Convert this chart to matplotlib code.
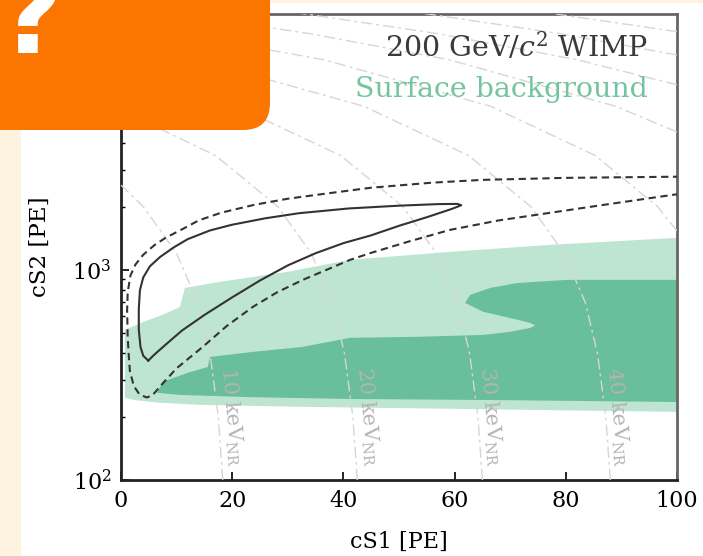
import matplotlib
matplotlib.use('Agg')
import matplotlib.pyplot as plt
from matplotlib.patches import FancyBboxPatch, Rectangle

plt.rcParams['font.family'] = 'DejaVu Serif'
plt.rcParams['mathtext.fontset'] = 'dejavuserif'

# surface background, outer (light) region
bg_outer_cs1 = [0.7, 4.0, 7.5, 10.6, 11.5, 17.8, 29.9, 41.2, 59.2, 77.2, 100,
                100, 77, 50, 32, 14, 7, 2.5, 0.7]
bg_outer_cs2 = [518, 565, 611, 666, 821, 877, 978, 1116, 1218, 1315, 1420,
                211, 215, 220, 223, 228, 233, 240, 246]

# surface background, inner (dark) region
bg_inner_cs1 = [6.5, 7.5, 11.9, 15.6, 16.0, 23.7, 32.7, 41.2, 53.2, 65.1, 70, 73.6, 74.5,
                73.6, 70, 65.1, 61.9, 62.8, 66.4, 71.2, 80.2, 100,
                100, 68, 41, 23, 10.6]
bg_inner_cs2 = [260, 293, 323, 345, 385, 407, 430, 475, 480, 490, 507, 529, 544,
                559, 590, 632, 696, 760, 820, 865, 896, 896,
                235, 240, 243, 248, 254]

# WIMP 1 sigma contour (closed)
wimp1_cs1 = [4.9, 4.0, 3.5, 3.2, 3.2, 3.4, 4.0, 5.2, 7.0, 9.5, 12, 16, 20, 26, 32, 41, 50, 57, 60.5, 61.2,
             59.5, 55, 50, 45, 40, 35, 30, 25, 20, 15, 11, 8, 6, 4.9]
wimp1_cs2 = [370, 390, 430, 520, 650, 800, 920, 1040, 1150, 1280, 1400, 1540, 1640, 1760, 1860, 1960, 2020, 2055, 2060, 2030,
             1950, 1780, 1620, 1460, 1340, 1200, 1050, 890, 740, 610, 515, 440, 395, 370]

# WIMP 2 sigma contour (open to the right)
wimp2_cs1 = [110, 100, 80, 65, 56, 45, 36, 30, 24, 18, 14, 11, 8, 6, 4, 2.6, 1.7, 1.2, 1.1, 1.2, 1.4,
             1.6, 2.3, 3.3, 4.6, 5.6, 7.6, 10, 14.7, 19, 23.7, 28, 32.7, 41.2, 45, 52, 59.2, 68, 77.2, 88, 99.3, 110]
wimp2_cs2 = [2800, 2775, 2740, 2680, 2600, 2460, 2290, 2180, 2040, 1870, 1720, 1560, 1420, 1310, 1180, 1060, 940, 780, 640, 480, 390,
             330, 280, 256, 247, 252, 290, 340, 430, 540, 666, 780, 896, 1116, 1205, 1370, 1550, 1720, 1869, 2060, 2276, 2450]

# constant-energy lines (keV_NR)
energy_lines = {
    10: ([18.3, 17.5, 16.0, 13.8, 10.0, 4.0, 0.0], [100, 200, 400, 700, 1200, 2000, 2530]),
    20: ([42.5, 41.7, 40.2, 38.0, 34.2, 28.2, 17.0, 0.0], [100, 200, 400, 700, 1200, 2000, 3500, 5760]),
    30: ([65.0, 64.2, 62.7, 60.5, 56.7, 50.7, 39.5, 20.7, 0.0], [100, 200, 400, 700, 1200, 2000, 3500, 6000, 8760]),
    40: ([88.0, 87.2, 85.7, 83.5, 79.7, 73.7, 62.5, 43.7, 13.7, 0.0],
         [100, 200, 400, 700, 1200, 2000, 3500, 6000, 10000, 11830]),
    50: ([100, 96.5, 85.3, 66.5, 36.5, 0.0], [1533, 2000, 3500, 6000, 10000, 14870]),
    60: ([100, 89, 59, 34, 9.5], [4530, 6000, 10000, 13300, 16600]),
    70: ([100, 82, 57, 32.5], [7600, 10000, 13300, 16600]),
    80: ([100, 79, 54.5], [10530, 13300, 16600]),
    90: ([100, 77.5], [13600, 16600]),
}
label_energies = [10, 20, 30, 40]
label_cs1 = [19.8, 44.3, 66.5, 89.3]
label_cs2 = [200, 200, 200, 200]

LIGHT = '#bee4d2'
DARK = '#69bf99'
ORANGE = '#fb7501'
CREAM = '#fef3df'

fig = plt.figure(figsize=(7.03, 5.56), dpi=100)
ax = fig.add_axes([121 / 703, 1 - 480 / 556, 556 / 703, 466 / 556])

ax.fill(bg_outer_cs1, bg_outer_cs2, color=LIGHT, lw=0, zorder=1)
ax.fill(bg_inner_cs1, bg_inner_cs2, color=DARK, lw=0, zorder=2)

for e, (xs, ys) in energy_lines.items():
    ax.plot(xs, ys, color='#d6d6d6', lw=1.0, ls=(0, (8, 3, 2, 3)), zorder=3)
for e, x, y in zip(label_energies, label_cs1, label_cs2):
    ax.text(x, y, f'{e} keV$_{{\\rm NR}}$', rotation=-85, ha='center', va='center',
            fontsize=15, color='#b4b4b4', zorder=3)

ax.plot(wimp1_cs1, wimp1_cs2, color='#333333', lw=1.5, zorder=4)
ax.plot(wimp2_cs1, wimp2_cs2, color='#333333', lw=1.5, ls=(0, (3.5, 2.2)), zorder=4)

ax.set_yscale('log')
ax.set_xlim(0, 100)
ax.set_ylim(100, 16500)
ax.set_xticks([0, 20, 40, 60, 80, 100])
ax.tick_params(which='both', direction='in', top=False, right=False, labelsize=16)
ax.tick_params(which='major', length=6, width=1.2, pad=7)
ax.tick_params(which='minor', length=3, width=1.0)
ax.set_xlabel('cS1 [PE]', fontsize=16, labelpad=14)
ax.set_ylabel('cS2 [PE]', fontsize=16.5, labelpad=15)

for side in ['left', 'bottom']:
    ax.spines[side].set_linewidth(2)
    ax.spines[side].set_color('#222222')
for side in ['top', 'right']:
    ax.spines[side].set_linewidth(2)
    ax.spines[side].set_color('#666666')

ax.text(0.948, 0.908, '200 GeV/$c^2$ WIMP', transform=ax.transAxes, ha='right', va='baseline',
        fontsize=20.5, color='#3a3a3a', zorder=5)
ax.text(0.948, 0.822, 'Surface background', transform=ax.transAxes, ha='right', va='baseline',
        fontsize=20.5, color='#74c3a1', zorder=5)

# overlay in pixel units: cream page edges and the orange tag
ov = fig.add_axes([0, 0, 1, 1], zorder=10)
ov.set_xlim(0, 703)
ov.set_ylim(556, 0)
ov.axis('off')
ov.patch.set_alpha(0)
ov.add_patch(Rectangle((0, 0), 21, 556, color=CREAM, lw=0))
ov.add_patch(Rectangle((0, 0), 703, 2.5, color=CREAM, lw=0))
ov.add_patch(FancyBboxPatch((-60, -60), 330, 190, boxstyle='round,pad=0,rounding_size=27',
                            color=ORANGE, lw=0))
ov.text(64, 53, '.?', color='white', fontsize=80, fontweight='bold', family='DejaVu Sans',
        ha='right', va='baseline', clip_on=True)

fig.savefig('out.png', dpi=100)
